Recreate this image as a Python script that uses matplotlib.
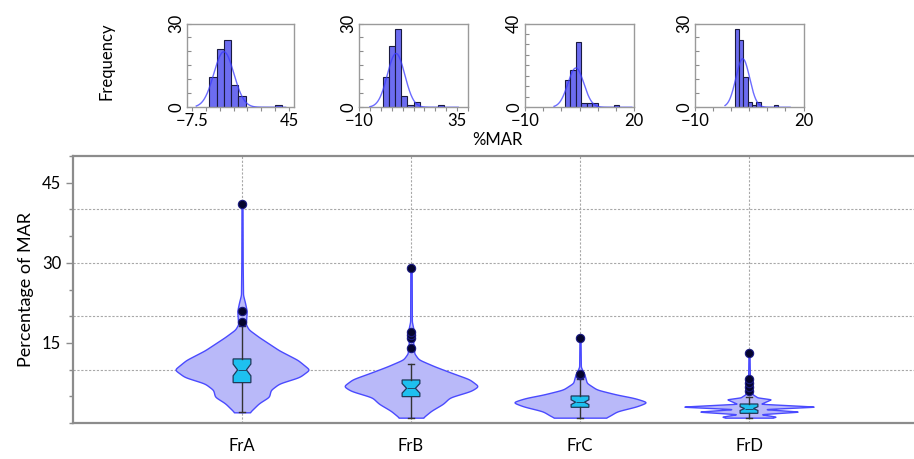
import numpy as np
import matplotlib
matplotlib.use("Agg")
import matplotlib.pyplot as plt
from matplotlib.ticker import FixedLocator, MultipleLocator

plt.rcParams['font.family'] = ['Lato', 'DejaVu Sans']

categories = ["FrA", "FrB", "FrC", "FrD"]

# ---- histogram data (%MAR), one set of bin edges and counts per fraction ----
edges_A = [2.0, 5.9, 9.8, 13.7, 17.6, 21.5, 25.4, 29.3, 33.2, 37.1, 41.0]
counts_A = [11, 21, 24, 8, 4, 0, 0, 0, 0, 1]
edges_B = [1.0, 3.8, 6.6, 9.4, 12.2, 15.0, 17.8, 20.6, 23.4, 26.2, 29.0]
counts_B = [11, 22, 28, 4, 1, 2, 0, 0, 0, 1]
edges_C = [1.0, 2.5, 4.0, 5.5, 7.0, 8.5, 10.0, 11.5, 13.0, 14.5, 16.0]
counts_C = [13, 18, 31, 2, 2, 2, 0, 0, 0, 1]
edges_D = [1.0, 2.2, 3.4, 4.6, 5.8, 7.0, 8.2, 9.4, 10.6, 11.8, 13.0]
counts_D = [28, 24, 11, 2, 1, 2, 0, 0, 0, 1]

# fitted normal curves drawn over each histogram
fit_mean = [9.8, 7.0, 4.0, 3.2]
fit_sd = [5.4, 4.0, 2.2, 1.9]
curve_lo = [-5.0, -5.0, -2.0, -1.7]
curve_hi = [43.0, 35.5, 19.4, 16.3]

# axis ranges and tick labels of the small histograms
hist_xlim = [(-10, 47.5), (-10, 40), (-10, 20), (-10, 20)]
hist_xticks = [(-7.5, 45), (-10, 35), (-10, 20), (-10, 20)]
hist_xminor = [7.5, 5, 5, 5]
hist_ymax = [30, 30, 40, 30]

# ---- violin outlines: value levels and half widths ----
levels_A = [2.0, 3.7, 4.9, 6.2, 7.4, 8.6, 10.0, 11.8, 13.6, 16.1, 17.5, 18.5, 19.5, 21.0, 22.5, 24.0, 30.0, 41.0]
width_A = [0.045, 0.10, 0.16, 0.17, 0.22, 0.34, 0.40, 0.33, 0.22, 0.10, 0.04, 0.022, 0.025, 0.028, 0.018, 0.006, 0.004, 0.003]
levels_B = [1.0, 2.3, 3.6, 4.8, 6.0, 6.9, 8.2, 9.4, 10.6, 11.9, 13.1, 14.0, 15.0, 16.5, 17.5, 19.0, 29.0]
width_B = [0.07, 0.12, 0.19, 0.23, 0.355, 0.40, 0.345, 0.24, 0.14, 0.045, 0.018, 0.02, 0.012, 0.022, 0.015, 0.005, 0.004]
levels_C = [1.0, 1.25, 2.2, 3.1, 3.9, 4.7, 5.3, 6.25, 7.5, 8.7, 9.5, 10.5, 16.0]
width_C = [0.15, 0.17, 0.22, 0.335, 0.40, 0.32, 0.22, 0.10, 0.04, 0.03, 0.02, 0.005, 0.003]
levels_D = [1.0, 1.19, 1.65, 2.13, 2.6, 3.06, 3.6, 4.44, 4.8, 5.3, 6.0, 8.5, 13.1]
width_D = [0.14, 0.16, 0.07, 0.30, 0.09, 0.40, 0.07, 0.13, 0.05, 0.025, 0.01, 0.005, 0.003]
violin_smooth = [0.22, 0.22, 0.18, 0.035]

# ---- notched box summaries ----
box_q1 = [7.56, 4.94, 2.94, 1.81]
box_med = [9.94, 6.5, 3.9, 2.7]
box_q3 = [12.0, 8.06, 5.06, 3.56]
box_lo = [2.0, 1.0, 1.0, 1.0]
box_hi = [18.2, 11.0, 8.3, 4.8]
notch_half = [1.1, 0.9, 0.45, 0.35]
fliers_A = [19.0, 21.0, 41.0]
fliers_B = [14.0, 15.9, 16.5, 17.1, 29.0]
fliers_C = [8.9, 9.2, 16.0]
fliers_D = [5.9, 6.7, 7.4, 8.2, 13.1]

grid_levels = [10, 20, 30, 40]

all_edges = [edges_A, edges_B, edges_C, edges_D]
all_counts = [counts_A, counts_B, counts_C, counts_D]
all_levels = [levels_A, levels_B, levels_C, levels_D]
all_widths = [width_A, width_B, width_C, width_D]
all_fliers = [fliers_A, fliers_B, fliers_C, fliers_D]

BAR = "#6c6cf0"
CURVE = "#3b3bff"
VFILL = "#b9b9f9"
VEDGE = "#4a4aff"
BOX = "#1ec0f0"
BOXEDGE = "#203a5a"
SPINE = "#8c8c8c"

W, H = 914, 459
fig = plt.figure(figsize=(W / 100, H / 100), dpi=100)


def px_axes(left, top, right, bottom):
    return fig.add_axes([left / W, 1 - bottom / H, (right - left) / W, (bottom - top) / H])


# ---- small histograms ----
hist_boxes = [(187, 23.5, 294, 107.3), (359, 23.5, 468, 107.3),
              (525, 23.5, 634, 107.3), (695, 23.5, 803.5, 107.3)]
for i, (l, t, r, b) in enumerate(hist_boxes):
    hx = px_axes(l, t, r, b)
    edges = np.asarray(all_edges[i])
    counts = np.asarray(all_counts[i])
    hx.bar(edges[:-1], counts, width=np.diff(edges), align='edge',
           color=BAR, edgecolor="#1a1a40", linewidth=0.8, zorder=2)
    n = counts.sum()
    bw = np.diff(edges).mean()
    xs = np.linspace(curve_lo[i], curve_hi[i], 300)
    ys = n * bw * np.exp(-0.5 * ((xs - fit_mean[i]) / fit_sd[i]) ** 2) / (fit_sd[i] * np.sqrt(2 * np.pi))
    hx.plot(xs, ys, color=CURVE, lw=1.0, alpha=0.75, zorder=3)
    hx.set_xlim(*hist_xlim[i])
    hx.set_ylim(0, hist_ymax[i])
    hx.set_xticks(list(hist_xticks[i]))
    hx.set_xticklabels([f"{v:g}".replace("-", "\u2212") for v in hist_xticks[i]], fontsize=12)
    hx.xaxis.set_minor_locator(MultipleLocator(hist_xminor[i]))
    hx.set_yticks([0, hist_ymax[i]])
    hx.set_yticklabels(["0", str(hist_ymax[i])], fontsize=12, rotation=90, va='center')
    hx.yaxis.set_minor_locator(MultipleLocator(5))
    hx.tick_params(axis='x', which='both', direction='out', length=3, width=0.8, color=SPINE, pad=1)
    hx.tick_params(axis='y', which='both', direction='in', length=3, width=0.8, color=SPINE, pad=2)
    for s in hx.spines.values():
        s.set_color("#9a9a9a")
        s.set_linewidth(1.0)

fig.text(107 / W, 1 - 61 / H, "Frequency", rotation=90, ha='center', va='center', fontsize=12)
fig.text(497 / W, 1 - 140 / H, "%MAR", ha='center', va='center', fontsize=12)

# ---- main violin + notched box panel ----
ax = px_axes(73, 156, 918, 423)
positions = np.arange(len(categories))

for i, pos in enumerate(positions):
    lv = np.asarray(all_levels[i])
    wd = np.asarray(all_widths[i])
    y = np.linspace(lv.min(), lv.max(), 2000)
    hw = np.interp(y, lv, wd)
    step = y[1] - y[0]
    sig = violin_smooth[i] / step
    k = np.arange(-int(4 * sig) - 1, int(4 * sig) + 2)
    ker = np.exp(-0.5 * (k / sig) ** 2)
    ker /= ker.sum()
    padded = np.pad(hw, len(k) // 2, mode='edge')
    hw_s = np.convolve(padded, ker, mode='valid')[:len(y)]
    ax.fill_betweenx(y, pos - hw_s, pos + hw_s, facecolor=VFILL, edgecolor=VEDGE,
                     linewidth=1.0, zorder=2)

stats = []
for i in range(len(categories)):
    stats.append(dict(med=box_med[i], q1=box_q1[i], q3=box_q3[i],
                      whislo=box_lo[i], whishi=box_hi[i],
                      cilo=box_med[i] - notch_half[i], cihi=box_med[i] + notch_half[i],
                      fliers=all_fliers[i]))

ax.bxp(stats, positions=positions, widths=0.105, shownotches=True, patch_artist=True,
       capwidths=0.04,
       boxprops=dict(facecolor=BOX, edgecolor=BOXEDGE, linewidth=0.9),
       medianprops=dict(color=BOXEDGE, linewidth=0.6),
       whiskerprops=dict(color="#333333", linewidth=1.0),
       capprops=dict(color="#333333", linewidth=1.0),
       flierprops=dict(marker='o', markerfacecolor="#05052e", markeredgecolor="#1a1a80",
                       markersize=6, markeredgewidth=0.8),
       zorder=4)

ax.set_xlim(-1, 4)
ax.set_ylim(0, 50)
ax.set_xticks(positions)
ax.set_xticklabels(categories, fontsize=12)
ax.tick_params(axis='x', length=0, pad=11)
ax.yaxis.set_major_locator(FixedLocator([15, 30, 45]))
ax.yaxis.set_minor_locator(MultipleLocator(5))
ax.tick_params(axis='y', which='major', labelsize=12, length=5, width=1.0, color=SPINE)
ax.tick_params(axis='y', which='minor', length=3, width=1.0, color=SPINE)
ax.set_ylabel("Percentage of MAR", fontsize=13, labelpad=6)

for g in grid_levels:
    ax.axhline(g, color="#a8a8a8", lw=0.8, ls=(0, (2, 1.5)), zorder=0)
ax.grid(axis='x', color="#a8a8a8", lw=0.8, ls=(0, (2, 1.5)), zorder=0)
ax.set_axisbelow(True)

for name, s in ax.spines.items():
    s.set_color(SPINE)
    s.set_linewidth(1.6)
ax.spines['right'].set_visible(False)

fig.savefig("out.png", dpi=100)
